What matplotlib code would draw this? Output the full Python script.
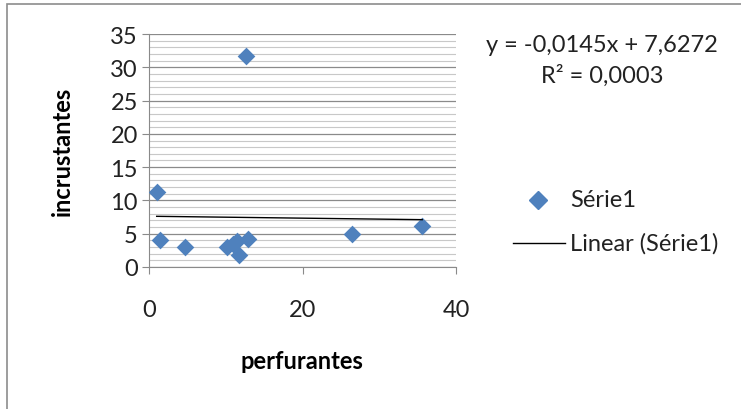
import matplotlib.pyplot as plt
import numpy as np
from matplotlib.patches import Rectangle
from matplotlib.lines import Line2D

plt.rcParams['font.family'] = ['Lato', 'DejaVu Sans']

perfurantes = [1.0, 1.4, 4.7, 12.6, 10.2, 10.9, 11.5, 11.7, 12.9, 26.4, 35.6]
incrustantes = [11.3, 4.0, 3.05, 31.65, 2.95, 3.4, 3.9, 1.85, 4.2, 4.95, 6.2]
slope, intercept = -0.0145, 7.6272
eq_text = 'y = -0,0145x + 7,6272'
r2_text = 'R² = 0,0003'

BLUE = '#4F81BD'
FS = 17
MS = 9


def main():
    fig = plt.figure(figsize=(7.41, 4.10), dpi=100)
    ax = fig.add_axes([149 / 741, 1 - 268 / 410, (456 - 149) / 741, (268 - 35) / 410])

    # outer chart border
    fig.patches.append(Rectangle((7 / 741, -0.1), 1.2, 1 - 5 / 410 + 0.1, transform=fig.transFigure,
                                 fill=False, edgecolor='#8c8c8c', linewidth=1.2))

    ax.set_xlim(0, 40)
    ax.set_ylim(0, 35)
    ax.set_yticks(np.arange(0, 36, 5))
    ax.set_yticks(np.arange(0, 36, 1), minor=True)
    ax.set_xticks([0, 20, 40])
    ax.grid(True, which='minor', axis='y', color='#c8c8c8', linewidth=0.8)
    ax.grid(True, which='major', axis='y', color='#8a8a8a', linewidth=0.9)
    ax.set_axisbelow(True)
    for s in ['top', 'right']:
        ax.spines[s].set_visible(False)
    for s in ['left', 'bottom']:
        ax.spines[s].set_color('#8a8a8a')
    ax.tick_params(which='major', color='#8a8a8a', length=5, labelsize=FS, labelcolor='#222222')
    ax.tick_params(which='minor', length=0)
    ax.tick_params(axis='x', pad=18)
    ax.tick_params(axis='y', pad=3)

    ax.scatter(perfurantes, incrustantes, marker='D', s=MS ** 2, color=BLUE, zorder=3, linewidths=0)
    xs = np.array([min(perfurantes), max(perfurantes)])
    ax.plot(xs, slope * xs + intercept, color='black', linewidth=1, zorder=4)

    ax.set_xlabel('perfurantes', fontsize=FS, fontweight='bold')
    ax.set_ylabel('incrustantes', fontsize=FS, fontweight='bold')
    ax.xaxis.set_label_coords((302 - 149) / 307, (268 - 362) / 233)
    ax.yaxis.set_label_coords((62 - 149) / 307, (268 - 151) / 233)
    ax.xaxis.label.set_va('center')
    ax.yaxis.label.set_va('center')

    fig.text(602 / 741, 1 - 46 / 410, eq_text, ha='center', va='center', fontsize=FS, color='#222222')
    fig.text(602 / 741, 1 - 76 / 410, r2_text, ha='center', va='center', fontsize=FS, color='#222222')

    # legend
    fig.add_artist(Line2D([538 / 741], [1 - 201 / 410], marker='D', markersize=MS, color=BLUE,
                          linestyle='none', transform=fig.transFigure))
    fig.text(570 / 741, 1 - 201 / 410, 'Série1', ha='left', va='center', fontsize=FS, color='#222222')
    fig.add_artist(Line2D([513 / 741, 565 / 741], [1 - 244 / 410] * 2, color='black', linewidth=1,
                          transform=fig.transFigure))
    fig.text(570 / 741, 1 - 244 / 410, 'Linear (Série1)', ha='left', va='center', fontsize=FS, color='#222222')

    fig.savefig('out.png', dpi=100)


if __name__ == '__main__':
    main()
